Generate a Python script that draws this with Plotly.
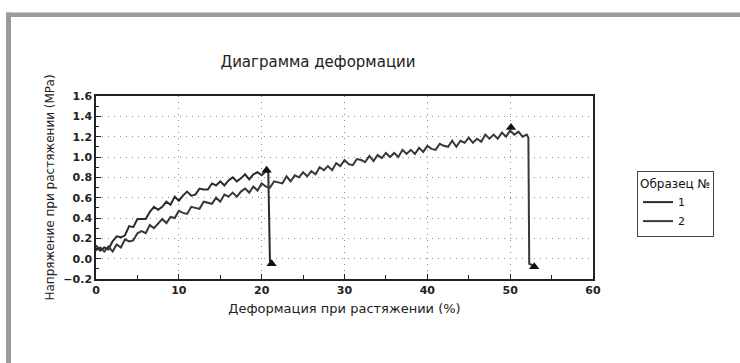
import plotly.graph_objects as go

# ---- data ----
strain_1 = [0, 0.5, 1, 1.5, 2, 2.5, 3, 3.5, 4, 4.5, 5, 5.5, 6, 6.5, 7, 7.5, 8, 8.5, 9, 9.5,
            10, 10.5, 11, 11.5, 12, 12.5, 13, 13.5, 14, 14.5, 15, 15.5, 16, 16.5, 17, 17.5,
            18, 18.5, 19, 19.5, 20, 20.5, 20.8, 21.0, 21.2]
stress_1 = [0.13, 0.08, 0.11, 0.09, 0.17, 0.22, 0.21, 0.23, 0.32, 0.31, 0.39, 0.39, 0.39,
            0.46, 0.51, 0.48, 0.51, 0.56, 0.53, 0.61, 0.57, 0.62, 0.66, 0.62, 0.63, 0.69,
            0.68, 0.68, 0.74, 0.72, 0.76, 0.72, 0.77, 0.80, 0.76, 0.79, 0.83, 0.78, 0.83,
            0.85, 0.82, 0.86, 0.85, -0.03, -0.05]

strain_2 = [0, 0.5, 1, 1.5, 2, 2.5, 3, 3.5, 4, 4.5, 5, 5.5, 6, 6.5, 7, 7.5, 8, 8.5, 9, 9.5,
            10, 10.5, 11, 11.5, 12, 12.5, 13, 13.5, 14, 14.5, 15, 15.5, 16, 16.5, 17, 17.5,
            18, 18.5, 19, 19.5, 20, 20.5, 21, 21.5, 22, 22.5, 23, 23.5, 24, 24.5, 25, 25.5,
            26, 26.5, 27, 27.5, 28, 28.5, 29, 29.5, 30, 30.5, 31, 31.5, 32, 32.5, 33, 33.5,
            34, 34.5, 35, 35.5, 36, 36.5, 37, 37.5, 38, 38.5, 39, 39.5, 40, 40.5, 41, 41.5,
            42, 42.5, 43, 43.5, 44, 44.5, 45, 45.5, 46, 46.5, 47, 47.5, 48, 48.5, 49, 49.5,
            50, 50.5, 51, 51.5, 52, 52.2, 52.3, 52.6, 52.8]
stress_2 = [0.08, 0.11, 0.07, 0.12, 0.07, 0.14, 0.11, 0.19, 0.17, 0.18, 0.25, 0.27, 0.25,
            0.33, 0.30, 0.34, 0.39, 0.35, 0.41, 0.40, 0.47, 0.45, 0.44, 0.51, 0.50, 0.49,
            0.56, 0.55, 0.54, 0.60, 0.56, 0.63, 0.61, 0.65, 0.61, 0.66, 0.69, 0.65, 0.71,
            0.67, 0.74, 0.71, 0.70, 0.76, 0.75, 0.74, 0.81, 0.76, 0.82, 0.80, 0.85, 0.81,
            0.86, 0.83, 0.90, 0.87, 0.91, 0.87, 0.94, 0.91, 0.97, 0.93, 0.92, 0.98, 0.97,
            0.95, 1.01, 0.96, 1.02, 0.99, 1.04, 1.00, 1.04, 1.00, 1.07, 1.03, 1.07, 1.03,
            1.09, 1.05, 1.11, 1.08, 1.07, 1.13, 1.11, 1.10, 1.16, 1.10, 1.16, 1.14, 1.19,
            1.14, 1.18, 1.15, 1.22, 1.18, 1.22, 1.18, 1.24, 1.20, 1.26, 1.22, 1.25, 1.20,
            1.22, 1.19, -0.05, -0.06, -0.08]

# peak / break markers
peak_x = [20.6, 50.1]
peak_y = [0.87, 1.29]
break_x = [21.2, 52.9]
break_y = [-0.05, -0.08]

series_names = ["1", "2"]
title_text = "Диаграмма деформации"
x_title = "Деформация при растяжении (%)"
y_title = "Напряжение при растяжении (MPa)"
legend_title = "Образец №"

FONT = "DejaVu Sans"

fig = go.Figure()
fig.add_trace(go.Scatter(x=strain_1, y=stress_1, mode="lines", name=series_names[0],
                         line=dict(color="#2b2b2b", width=2)))
fig.add_trace(go.Scatter(x=strain_2, y=stress_2, mode="lines", name=series_names[1],
                         line=dict(color="#383838", width=2)))
fig.add_trace(go.Scatter(x=peak_x + break_x, y=peak_y + break_y, mode="markers",
                         showlegend=False,
                         marker=dict(symbol="triangle-up", size=9, color="#111")))

W, H = 740, 363
L, R, T, B = 96, 147, 96, 84
pw, ph = W - L - R, H - T - B


def px2x(px):
    return (px - L) / pw


def py2y(py):
    return (H - B - py) / ph


frame = "#9b9b9b"
shapes = [
    dict(type="rect", xref="paper", yref="paper", x0=px2x(6), x1=px2x(741),
         y0=py2y(17), y1=py2y(12.5), fillcolor=frame, line=dict(width=0), layer="below"),
    dict(type="rect", xref="paper", yref="paper", x0=px2x(6), x1=px2x(11),
         y0=py2y(364), y1=py2y(12.5), fillcolor=frame, line=dict(width=0), layer="below"),
]

axis_common = dict(
    showline=True, linecolor="#222", linewidth=1.5, mirror=True,
    showgrid=True, gridcolor="#8a8a8a", griddash="1px,5px", gridwidth=1,
    zeroline=False, ticks="inside", ticklen=5, tickcolor="#222",
    tickfont=dict(family=FONT, size=11, color="#222", weight="bold"),
)

fig.update_layout(
    width=W, height=H,
    margin=dict(l=L, r=R, t=T, b=B),
    paper_bgcolor="white", plot_bgcolor="white",
    title=dict(text=title_text, x=318 / W, xanchor="center", y=1 - 62 / H, yanchor="middle",
               font=dict(family=FONT, size=15, color="#222")),
    xaxis=dict(range=[0, 60], dtick=10, tick0=0,
               minor=dict(ticks="inside", dtick=5, ticklen=4, tickcolor="#222", showgrid=False),
               title=dict(text=x_title, font=dict(family=FONT, size=13, color="#222"), standoff=8),
               **axis_common),
    yaxis=dict(range=[-0.2, 1.6], dtick=0.2, tick0=0, tickformat=".1f",
               minor=dict(ticks="inside", dtick=0.1, ticklen=3, tickcolor="#222", showgrid=False),
               title=dict(text=y_title, font=dict(family=FONT, size=12, color="#222"), standoff=6),
               **axis_common),
    legend=dict(title=dict(text=legend_title, font=dict(family=FONT, size=12, color="#111")),
                x=px2x(637), xanchor="left", y=py2y(171), yanchor="top",
                bordercolor="#444", borderwidth=1, bgcolor="white",
                font=dict(family=FONT, size=11, color="#111"), tracegroupgap=0),
    shapes=shapes,
    showlegend=True,
)

fig.write_html("out.html", config={"displayModeBar": False},
               post_script="document.body.style.margin='0';")
